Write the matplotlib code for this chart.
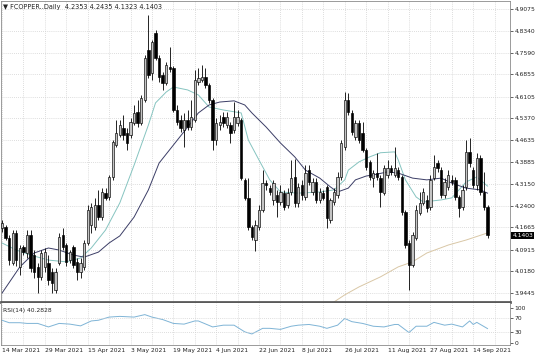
import numpy as np
import matplotlib

matplotlib.use("Agg")
import matplotlib.pyplot as plt

# ── 일봉 OHLC ──
opens = [
    4.165, 4.168, 4.131, 4.046, 4.148, 4.033, 4.100, 4.080, 4.141, 4.073,
    4.033, 3.999, 4.033, 4.046, 4.016, 3.955, 4.046, 4.141, 4.107, 4.056,
    4.100, 4.050, 4.016, 4.033, 4.114, 4.175, 4.168, 4.243, 4.202, 4.283,
    4.270, 4.338, 4.446, 4.480, 4.504, 4.487, 4.480, 4.521, 4.558, 4.521,
    4.599, 4.768, 4.690, 4.826, 4.741, 4.684, 4.657, 4.711, 4.707, 4.565,
    4.531, 4.497, 4.531, 4.507, 4.531, 4.660, 4.667, 4.677, 4.650, 4.599,
    4.463, 4.514, 4.541, 4.514, 4.514, 4.497, 4.521, 4.531, 4.328, 4.267,
    4.168, 4.124, 4.168, 4.226, 4.317, 4.300, 4.260, 4.277, 4.253, 4.283,
    4.243, 4.287, 4.338, 4.250, 4.311, 4.270, 4.361, 4.287, 4.321, 4.260,
    4.283, 4.304, 4.192, 4.253, 4.277, 4.338, 4.440, 4.599, 4.555, 4.473,
    4.521, 4.487, 4.429, 4.389, 4.334, 4.351, 4.334, 4.283, 4.345, 4.368,
    4.345, 4.361, 4.338, 4.219, 4.114, 4.039, 4.131, 4.216, 4.250, 4.260,
    4.236, 4.334, 4.385, 4.361, 4.277, 4.304, 4.328, 4.328, 4.270, 4.236,
    4.304, 4.423, 4.361, 4.311, 4.402, 4.287, 4.2353,
]
highs = [
    4.192, 4.175, 4.141, 4.158, 4.158, 4.107, 4.107, 4.158, 4.158, 4.090,
    4.046, 4.090, 4.097, 4.073, 4.029, 4.029, 4.148, 4.165, 4.114, 4.090,
    4.107, 4.063, 4.063, 4.124, 4.243, 4.250, 4.267, 4.294, 4.300, 4.300,
    4.345, 4.463, 4.531, 4.531, 4.548, 4.504, 4.538, 4.582, 4.599, 4.616,
    4.752, 4.887, 4.802, 4.836, 4.752, 4.694, 4.728, 4.779, 4.714, 4.582,
    4.548, 4.555, 4.565, 4.599, 4.701, 4.707, 4.718, 4.707, 4.657, 4.606,
    4.538, 4.548, 4.558, 4.558, 4.524, 4.592, 4.565, 4.538, 4.334, 4.334,
    4.175, 4.192, 4.243, 4.361, 4.328, 4.311, 4.328, 4.294, 4.311, 4.294,
    4.300, 4.395, 4.399, 4.317, 4.328, 4.378, 4.378, 4.334, 4.334, 4.300,
    4.294, 4.311, 4.267, 4.300, 4.355, 4.463, 4.626, 4.623, 4.565, 4.531,
    4.531, 4.524, 4.436, 4.395, 4.361, 4.420, 4.345, 4.378, 4.395, 4.378,
    4.440, 4.372, 4.345, 4.226, 4.124, 4.151, 4.243, 4.287, 4.300, 4.277,
    4.345, 4.412, 4.395, 4.372, 4.334, 4.361, 4.345, 4.338, 4.277, 4.311,
    4.463, 4.470, 4.372, 4.420, 4.412, 4.355, 4.2435,
]
lows = [
    4.151, 4.124, 4.039, 4.039, 4.036, 4.005, 4.073, 4.063, 4.016, 3.995,
    3.944, 3.988, 4.016, 3.972, 3.944, 3.944, 4.039, 4.090, 4.036, 4.046,
    4.029, 3.988, 3.995, 4.022, 4.107, 4.148, 4.158, 4.192, 4.192, 4.260,
    4.260, 4.328, 4.440, 4.473, 4.463, 4.429, 4.470, 4.514, 4.507, 4.514,
    4.592, 4.674, 4.667, 4.735, 4.660, 4.633, 4.650, 4.694, 4.558, 4.514,
    4.490, 4.440, 4.497, 4.497, 4.524, 4.650, 4.660, 4.640, 4.589, 4.429,
    4.446, 4.497, 4.507, 4.504, 4.453, 4.487, 4.511, 4.328, 4.260, 4.158,
    4.124, 4.087, 4.158, 4.219, 4.294, 4.277, 4.243, 4.202, 4.243, 4.226,
    4.233, 4.277, 4.236, 4.236, 4.260, 4.260, 4.311, 4.277, 4.250, 4.250,
    4.260, 4.165, 4.182, 4.243, 4.267, 4.328, 4.429, 4.548, 4.480, 4.463,
    4.453, 4.423, 4.361, 4.328, 4.304, 4.328, 4.236, 4.277, 4.334, 4.345,
    4.338, 4.328, 4.209, 4.097, 3.955, 4.033, 4.124, 4.209, 4.243, 4.219,
    4.226, 4.328, 4.355, 4.267, 4.267, 4.294, 4.311, 4.260, 4.202, 4.226,
    4.294, 4.372, 4.300, 4.294, 4.277, 4.226, 4.1323,
]
closes = [
    4.182, 4.131, 4.056, 4.148, 4.056, 4.097, 4.083, 4.141, 4.029, 4.016,
    3.999, 4.080, 4.083, 3.988, 3.978, 4.016, 4.134, 4.100, 4.050, 4.083,
    4.039, 4.016, 4.046, 4.114, 4.226, 4.236, 4.243, 4.202, 4.287, 4.267,
    4.338, 4.456, 4.487, 4.514, 4.480, 4.453, 4.524, 4.555, 4.521, 4.606,
    4.741, 4.684, 4.796, 4.741, 4.677, 4.657, 4.718, 4.704, 4.565, 4.524,
    4.504, 4.531, 4.507, 4.541, 4.667, 4.674, 4.677, 4.650, 4.599, 4.463,
    4.521, 4.524, 4.521, 4.541, 4.487, 4.541, 4.541, 4.334, 4.267, 4.168,
    4.134, 4.175, 4.226, 4.317, 4.311, 4.287, 4.317, 4.253, 4.287, 4.236,
    4.283, 4.334, 4.250, 4.304, 4.277, 4.351, 4.321, 4.321, 4.260, 4.287,
    4.267, 4.199, 4.260, 4.287, 4.338, 4.453, 4.599, 4.558, 4.490, 4.521,
    4.463, 4.429, 4.372, 4.338, 4.351, 4.338, 4.287, 4.368, 4.368, 4.355,
    4.368, 4.338, 4.219, 4.107, 4.039, 4.141, 4.226, 4.250, 4.287, 4.233,
    4.328, 4.372, 4.368, 4.277, 4.321, 4.345, 4.321, 4.270, 4.233, 4.294,
    4.423, 4.385, 4.311, 4.402, 4.287, 4.236, 4.1403,
]

# ── 이동평균선 (막대 인덱스, 값) ──
fast_ma_bars = [0, 4, 8, 13, 18, 22, 25, 29, 33, 37, 41, 43, 46, 48, 52, 55, 58,
                62, 67, 69, 72, 75, 78, 83, 89, 93, 96, 97, 100, 103, 106, 110,
                111, 113, 116, 118, 123, 126, 128, 130, 133, 136]
fast_ma = [4.114, 4.090, 4.073, 4.056, 4.050, 4.063, 4.097, 4.158, 4.250, 4.378,
           4.514, 4.589, 4.626, 4.643, 4.633, 4.616, 4.575, 4.565, 4.555, 4.463,
           4.395, 4.328, 4.287, 4.283, 4.287, 4.294, 4.328, 4.361, 4.389, 4.406,
           4.420, 4.423, 4.395, 4.328, 4.270, 4.253, 4.260, 4.267, 4.294, 4.321,
           4.338, 4.307]
slow_ma_bars = [0, 5, 9, 13, 16, 20, 23, 27, 30, 33, 37, 41, 44, 48, 52, 55, 58,
                61, 65, 68, 70, 74, 78, 82, 85, 89, 92, 94, 97, 99, 102, 104, 108,
                111, 115, 119, 123, 126, 130, 134, 136]
slow_ma = [3.944, 4.033, 4.080, 4.097, 4.090, 4.073, 4.066, 4.083, 4.114, 4.138,
           4.202, 4.294, 4.385, 4.446, 4.507, 4.555, 4.582, 4.592, 4.596, 4.582,
           4.555, 4.507, 4.453, 4.406, 4.361, 4.334, 4.304, 4.287, 4.300, 4.328,
           4.341, 4.345, 4.355, 4.351, 4.334, 4.328, 4.334, 4.317, 4.300, 4.294,
           4.283]
long_ma_bars = [93, 96, 100, 106, 111, 115, 119, 125, 130, 136]
long_ma = [3.914, 3.938, 3.965, 3.999, 4.033, 4.050, 4.080, 4.107, 4.124, 4.148]

# ── RSI(14) ──
rsi_bars = [0, 2, 5, 7, 10, 13, 16, 19, 22, 25, 27, 30, 33, 37, 40, 42, 45, 48,
            51, 54, 55, 59, 62, 65, 68, 70, 73, 75, 78, 81, 83, 86, 89, 91, 94,
            96, 98, 101, 104, 107, 110, 111, 114, 116, 119, 121, 124, 126, 129,
            131, 132, 133, 136]
rsi_vals = [64, 57, 57, 55, 55, 45, 55, 53, 48, 62, 64, 73, 75, 73, 80, 73, 66,
            55, 53, 62, 62, 45, 50, 50, 31, 25, 41, 41, 38, 47, 50, 52, 47, 41,
            50, 69, 60, 55, 47, 45, 52, 52, 29, 47, 47, 58, 50, 53, 45, 62, 52,
            58, 40.28]

date_bars = [0, 12, 24, 36, 48, 60, 72, 84, 96, 108, 120, 132]
date_labels = ["14 Mar 2021", "29 Mar 2021", "15 Apr 2021", "3 May 2021",
               "19 May 2021", "4 Jun 2021", "22 Jun 2021", "8 Jul 2021",
               "26 Jul 2021", "11 Aug 2021", "27 Aug 2021", "14 Sep 2021"]
price_ticks = [4.9075, 4.8340, 4.7590, 4.6855, 4.6105, 4.5370, 4.4635,
               4.3885, 4.3150, 4.2400, 4.1665, 4.0915, 4.0180, 3.9445]
rsi_ticks = [100, 70, 30, 0]

FONT = 4.3
HEAD_FONT = 4.7
GRID = dict(color="#d2d2d2", linestyle=(0, (1, 1.5)), linewidth=0.6)
XLIM = (-0.28, 142.3)

fig = plt.figure(figsize=(5.36, 3.57), dpi=100)
ax = fig.add_axes([0.0019, 0.1541, 0.9496, 0.8431])
ax_rsi = fig.add_axes([0.0019, 0.0336, 0.9496, 0.1176])

# ── 캔들 ──
x = np.arange(len(closes))
o = np.array(opens)
c = np.array(closes)
ax.vlines(x, lows, highs, color="black", linewidth=0.6, zorder=3)
up = c >= o
body = np.maximum(np.abs(c - o), 0.002)
ax.bar(x[up], body[up], bottom=np.minimum(o, c)[up], width=0.66,
       color="#c4c4c4", edgecolor="black", linewidth=0.45, zorder=4)
ax.bar(x[~up], body[~up], bottom=np.minimum(o, c)[~up], width=0.66,
       color="black", edgecolor="black", linewidth=0.45, zorder=4)

ax.plot(fast_ma_bars, fast_ma, color="#86c4c0", linewidth=0.7, zorder=2)
ax.plot(slow_ma_bars, slow_ma, color="#3b3d66", linewidth=0.7, zorder=2)
ax.plot(long_ma_bars, long_ma, color="#d9c7a6", linewidth=0.7, zorder=2)

ax.set_xlim(*XLIM)
ax.set_ylim(3.9139, 4.9346)
ax.set_xticks(np.arange(0, 143, 6))
ax.set_yticks(price_ticks)
ax.set_yticklabels([f"{p:.4f}" for p in price_ticks])
ax.yaxis.tick_right()
ax.tick_params(axis="y", labelsize=FONT, length=2, pad=1.2, width=0.5,
               colors="#222222")
ax.tick_params(axis="x", length=0, labelbottom=False)
ax.grid(True, **GRID)
ax.set_axisbelow(True)
for s in ax.spines.values():
    s.set_color("#8a8a8a")
    s.set_linewidth(0.6)
# 창 구분선: 하나의 두꺼운 선
ax.spines["bottom"].set_color("#5a5a5a")
ax.spines["bottom"].set_linewidth(2.0)

ax.text(0.004, 0.980, "\u25bc FCOPPER..Daily  4.2353 4.2435 4.1323 4.1403",
        transform=ax.transAxes, fontsize=HEAD_FONT, va="center", ha="left",
        color="#222222")
ax.text(1.005, closes[-1], f"{closes[-1]:.4f}", transform=ax.get_yaxis_transform(),
        fontsize=FONT, color="white", va="center", ha="left",
        bbox=dict(facecolor="black", edgecolor="none", pad=0.8))

# ── RSI 패널 ──
ax_rsi.plot(rsi_bars, rsi_vals, color="#7fb4d6", linewidth=0.7)
ax_rsi.axhline(70, **GRID)
ax_rsi.axhline(30, **GRID)
ax_rsi.set_xlim(*XLIM)
ax_rsi.set_ylim(-6.4, 113.0)
ax_rsi.set_xticks(np.arange(0, 143, 6), minor=True)
ax_rsi.set_xticks(date_bars)
ax_rsi.set_xticklabels(date_labels, ha="left")
ax_rsi.xaxis.grid(True, which="both", **GRID)
ax_rsi.tick_params(axis="x", which="both", length=0, labelsize=FONT, pad=2,
                   colors="#222222")
ax_rsi.set_yticks(rsi_ticks)
ax_rsi.yaxis.tick_right()
ax_rsi.tick_params(axis="y", labelsize=FONT, length=2, pad=1.2, width=0.5,
                   colors="#222222")
for s in ax_rsi.spines.values():
    s.set_color("#8a8a8a")
    s.set_linewidth(0.6)
ax_rsi.spines["top"].set_visible(False)
ax_rsi.text(0.004, 0.82, "RSI(14) 40.2828", transform=ax_rsi.transAxes,
            fontsize=FONT, va="center", ha="left", color="#222222")

fig.savefig("out.png", dpi=100, facecolor="white")
